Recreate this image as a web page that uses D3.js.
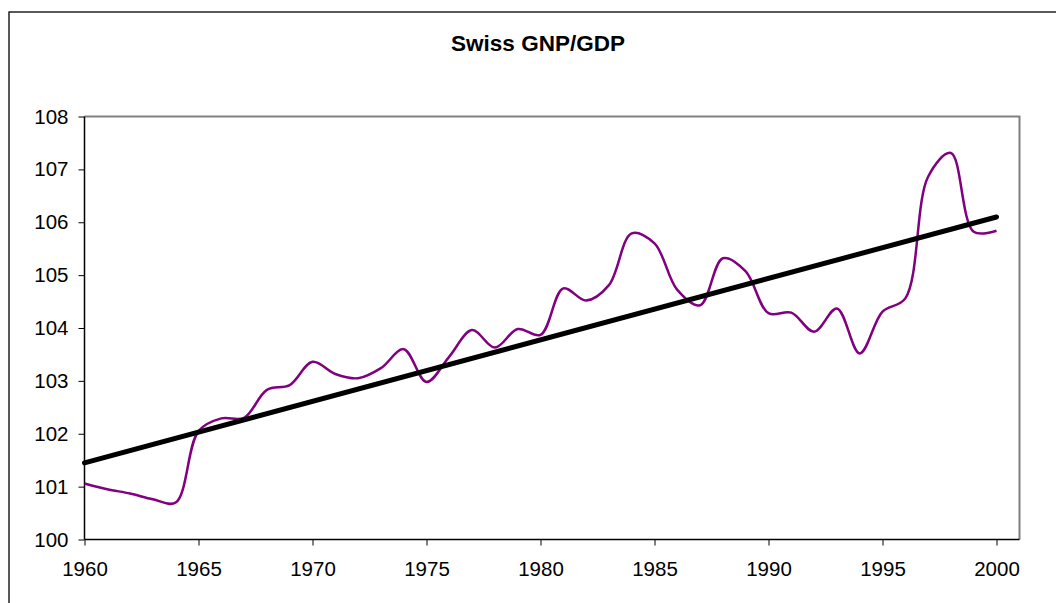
<!DOCTYPE html>
<html>
<head>
<meta charset="utf-8">
<script src="https://cdn.jsdelivr.net/npm/d3@7"></script>
<style>
  html, body { margin: 0; padding: 0; background: #fff; }
  svg { display: block; font-family: "Liberation Sans", Arial, sans-serif; }
</style>
</head>
<body>
<svg id="chart" width="1056" height="603"></svg>
<script>
const years = d3.range(1960, 2001);
const ratio = [
  101.06, 100.95, 100.87, 100.76, 100.70, 102.05, 102.29, 102.30, 102.83, 102.92,
  103.36, 103.13, 103.05, 103.24, 103.60, 102.98, 103.46, 103.96, 103.63, 103.98,
  103.87, 104.75, 104.52, 104.81, 105.79, 105.60, 104.72, 104.43, 105.32, 105.07,
  104.28, 104.29, 103.93, 104.37, 103.52, 104.31, 104.56, 106.86, 107.31, 105.82,
  105.84
];
const trendYears = [1960, 2000];
const trendValues = [101.45, 106.10];
const yTicks = [100, 101, 102, 103, 104, 105, 106, 107, 108];
const xTicks = [1960, 1965, 1970, 1975, 1980, 1985, 1990, 1995, 2000];

const svg = d3.select('#chart');

// outer chart frame (runs off the right and bottom edge)
svg.append('rect')
  .attr('x', 9).attr('y', 12)
  .attr('width', 1100).attr('height', 650)
  .attr('fill', '#fff')
  .attr('stroke', '#000')
  .attr('stroke-width', 1.3);

svg.append('text')
  .attr('x', 538).attr('y', 51)
  .attr('text-anchor', 'middle')
  .attr('font-size', 22.5)
  .attr('font-weight', 'bold')
  .text('Swiss GNP/GDP');

const plotLeft = 84.5, plotRight = 1019.5, plotTop = 116.5, plotBottom = 539.5;

const x = d3.scaleLinear().domain([1960, 2000]).range([plotLeft, plotLeft + 912]);
const y = d3.scaleLinear().domain([100, 108]).range([plotBottom, plotTop]);

// plot area: gray top/right border
svg.append('path')
  .attr('d', `M${plotLeft},${plotTop}H${plotRight}V${plotBottom}`)
  .attr('fill', 'none')
  .attr('stroke', '#808080')
  .attr('stroke-width', 2);

const yAxis = svg.append('g')
  .attr('transform', `translate(${plotLeft},0)`)
  .call(d3.axisLeft(y).tickValues(yTicks).tickSize(6).tickPadding(10).tickFormat(d3.format('d')));

const xAxis = svg.append('g')
  .attr('transform', `translate(0,${plotBottom})`)
  .call(d3.axisBottom(x).tickValues(xTicks).tickSize(6).tickPadding(16).tickFormat(d3.format('d')));

xAxis.select('.domain').attr('d', `M${plotLeft},0H${plotRight}`);
yAxis.select('.domain').attr('d', `M0,${plotTop}V${plotBottom}`);

[xAxis, yAxis].forEach((g) => {
  g.selectAll('text').attr('font-size', 20.5).attr('fill', '#000')
    .attr('font-family', '"Liberation Sans", Arial, sans-serif');
  g.selectAll('line').attr('stroke', '#000');
  g.select('.domain').attr('stroke', '#000').attr('stroke-width', 1.5);
});

const line = d3.line()
  .x((d, i) => x(years[i]))
  .y((d) => y(d))
  .curve(d3.curveCatmullRom.alpha(0.5));

svg.append('path')
  .datum(ratio)
  .attr('d', line)
  .attr('fill', 'none')
  .attr('stroke', '#800080')
  .attr('stroke-width', 2.5);

const trendLine = d3.line()
  .x((d, i) => x(trendYears[i]))
  .y((d) => y(d));

svg.append('path')
  .datum(trendValues)
  .attr('d', trendLine)
  .attr('fill', 'none')
  .attr('stroke', '#000')
  .attr('stroke-width', 5)
  .attr('stroke-linecap', 'round');
</script>
</body>
</html>
